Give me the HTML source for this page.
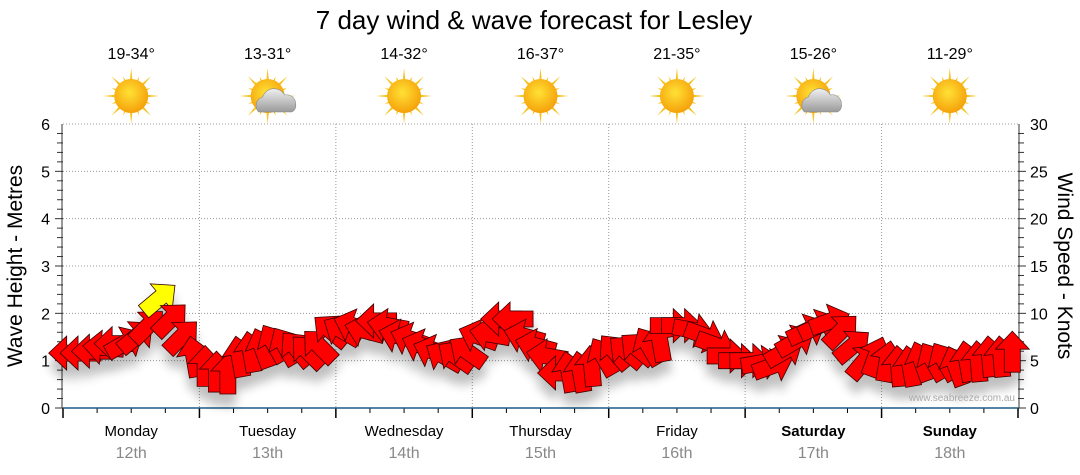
<!DOCTYPE html>
<html><head><meta charset="utf-8"><style>
body{margin:0;background:#fff;width:1080px;height:475px;overflow:hidden;font-family:"Liberation Sans","DejaVu Sans",sans-serif}
svg{display:block}
</style></head><body>
<svg id="chart" width="1080" height="475">
<defs>
<filter id="sh" x="-50%" y="-50%" width="200%" height="200%"><feGaussianBlur in="SourceAlpha" stdDeviation="5"/><feOffset dx="0" dy="12"/><feComponentTransfer><feFuncA type="linear" slope="0.25"/></feComponentTransfer><feMerge><feMergeNode/><feMergeNode in="SourceGraphic"/></feMerge></filter>
<radialGradient id="sunG" cx="45%" cy="40%" r="60%"><stop offset="0" stop-color="#ffe135"/><stop offset="1" stop-color="#f5a10a"/></radialGradient>
<linearGradient id="cloudG" x1="0" y1="0" x2="0" y2="1"><stop offset="0" stop-color="#f0f0f0"/><stop offset="1" stop-color="#9a9a9a"/></linearGradient>
</defs>
<text x="534" y="29" text-anchor="middle" font-size="26">7 day wind &amp; wave forecast for Lesley</text>
<g id="grid"></g>
<g id="axes"></g>
<g id="icons"></g>
<g id="arrows" filter="url(#sh)"></g>
<text x="1015" y="401" text-anchor="end" font-size="10" fill="#aaa">www.seabreeze.com.au</text>
<text transform="translate(22,266) rotate(-90)" text-anchor="middle" font-size="21">Wave Height - Metres</text>
<text transform="translate(1058,266) rotate(90)" text-anchor="middle" font-size="21">Wind Speed - Knots</text>
</svg>
<script>
const days=["Monday","Tuesday","Wednesday","Thursday","Friday","Saturday","Sunday"];
const dates=["12th","13th","14th","15th","16th","17th","18th"];
const temps=["19-34°","13-31°","14-32°","16-37°","21-35°","15-26°","11-29°"];
const cloudy=[false,true,false,false,false,true,false];
const waveTicks=[0,1,2,3,4,5,6];
const windTicks=[0,5,10,15,20,25,30];
// wind speed (knots) per 2-hour step, 12 per day
const windKnots=[5.8,5.8,6.0,6.4,6.8,6.9,7.6,8.7,11.6,9.4,7.6,5.5,
4.5,3.9,3.7,5.5,6.0,6.4,6.9,6.6,6.3,6.0,6.6,8.2,
8.2,8.7,8.2,9.2,8.7,7.6,7.3,6.6,6.0,5.5,5.5,6.0,
7.6,7.8,9.4,9.4,7.6,6.6,5.5,3.7,3.9,3.9,4.5,5.5,
6.0,6.0,6.3,6.6,7.1,8.7,8.7,8.2,7.6,6.6,5.5,5.0,
5.0,4.8,4.5,6.0,7.1,8.2,8.7,9.2,8.2,6.6,5.0,5.5,
5.0,4.5,4.5,5.0,5.0,5.0,4.5,5.0,5.0,5.5,5.5,6.0];
// arrow pointing direction in screen degrees (0=right, -90=up)
const windDir=[180,180,180,185,180,-30,-40,-45,-40,-45,-45,-100,
-90,-90,-90,-100,-100,-110,-120,-120,-130,-135,-135,-140,
-150,-160,-165,180,-170,-165,-160,-160,-160,-150,-145,-145,
-160,-170,180,180,-165,-165,-170,180,-100,-100,-95,-120,
-130,-140,-140,-120,-100,0,0,10,20,20,0,0,
0,-10,-20,-30,-30,-25,-25,-20,-45,-40,-50,-70,
-80,-95,-100,-110,-120,-120,-110,-100,-95,-95,-95,-90];
const NS="http://www.w3.org/2000/svg";
const X0=63,X1=1018,Y0=408,YT=124;
const dayW=(X1-X0)/7;
const xDay=d=>X0+d*dayW;
const yWave=v=>Y0-(v/6)*(Y0-YT);
const yWind=v=>Y0-(v/30)*(Y0-YT);
function mk(tag,attrs,parent){const e=document.createElementNS(NS,tag);for(const k in attrs)e.setAttribute(k,attrs[k]);parent.appendChild(e);return e;}
const grid=document.getElementById('grid'),axes=document.getElementById('axes'),icons=document.getElementById('icons'),arrows=document.getElementById('arrows');
waveTicks.forEach(v=>{
  if(v>0){const l=mk('line',{x1:X0,x2:X1,y1:yWave(v),y2:yWave(v),stroke:'#999','stroke-dasharray':'1,2'},grid);
  
  }
  const t=mk('text',{x:50,y:yWave(v)+6,'text-anchor':'end','font-size':16},axes);t.textContent=v;
  
  
});
for(let i=0;i<30;i++){const y=Y0-i*(Y0-YT)/30;mk('line',{x1:i%5?57:55,x2:63,y1:y,y2:y,stroke:'#333'},axes);mk('line',{x1:1018,x2:i%5?1024:1026,y1:y,y2:y,stroke:'#333'},axes);}
mk('line',{x1:62,x2:62,y1:YT,y2:Y0,stroke:'#333'},axes);
mk('line',{x1:1019,x2:1019,y1:YT,y2:Y0,stroke:'#333'},axes);
windTicks.forEach(v=>{const t=mk('text',{x:1030,y:yWind(v)+6,'font-size':16},axes);t.textContent=v;
  
  });
for(let d=0;d<=7;d++){
  const x=xDay(d);
  if(d>0&&d<7){const l=mk('line',{x1:x,x2:x,y1:YT,y2:Y0,stroke:'#999','stroke-dasharray':'1,2'},grid);
  
  }
  mk('line',{x1:x,x2:x,y1:Y0,y2:Y0+10,stroke:'#000','stroke-width':1.5},axes);
  if(d<7)for(let q=1;q<4;q++){const xx=x+q*dayW/4;mk('line',{x1:xx,x2:xx,y1:Y0,y2:Y0+5,stroke:'#000'},axes);}
}
mk('line',{x1:X0,x2:X1,y1:Y0,y2:Y0,stroke:'#1d5a85','stroke-width':1.5},axes);
days.forEach((n,d)=>{
  const cx=xDay(d)+dayW/2;
  const t=mk('text',{x:cx,y:436,'text-anchor':'middle','font-size':15,'font-weight':(d>=5?'bold':'normal')},axes);t.textContent=n;
  
  
  const t2=mk('text',{x:cx,y:458,'text-anchor':'middle','font-size':16,fill:'#888'},axes);t2.textContent=dates[d];
  
  
  const t3=mk('text',{x:cx,y:59,'text-anchor':'middle','font-size':16},icons);t3.textContent=temps[d];
  
  
  const g=mk('g',{transform:`translate(${cx},96)`},icons);
  
  
  for(let r=0;r<16;r++){const a=r*Math.PI/8,L=r%2?21:28;mk('polygon',{points:`${Math.cos(a-0.12)*13},${Math.sin(a-0.12)*13} ${Math.cos(a)*L},${Math.sin(a)*L} ${Math.cos(a+0.12)*13},${Math.sin(a+0.12)*13}`,fill:'#f6c21c'},g);}
  mk('circle',{r:17,fill:'url(#sunG)'},g);
  if(cloudy[d]){mk('path',{d:'M-9,16 a9,9 0 0 1 4,-15 a12,12 0 0 1 22,-2 a9,9 0 0 1 11,9 a7,7 0 0 1 -4,8 z',fill:'url(#cloudG)',stroke:'#888','stroke-width':0.6},g);}
});
// arrows
const step=dayW/12;
windKnots.forEach((k,i)=>{
  const x=X0+step*(i+0.5),y=yWind(k);
  const p=mk('polygon',{points:'-21,-8 2,-8 2,-17 20,0 2,17 2,8 -21,8',fill:'#ff0000',stroke:'#3a0000','stroke-width':0.8,transform:`translate(${x},${y}) rotate(${windDir[i]})`},arrows);
  if(i===8)p.setAttribute('fill','#ffff00');
  
  
});
</script>
</body></html>
